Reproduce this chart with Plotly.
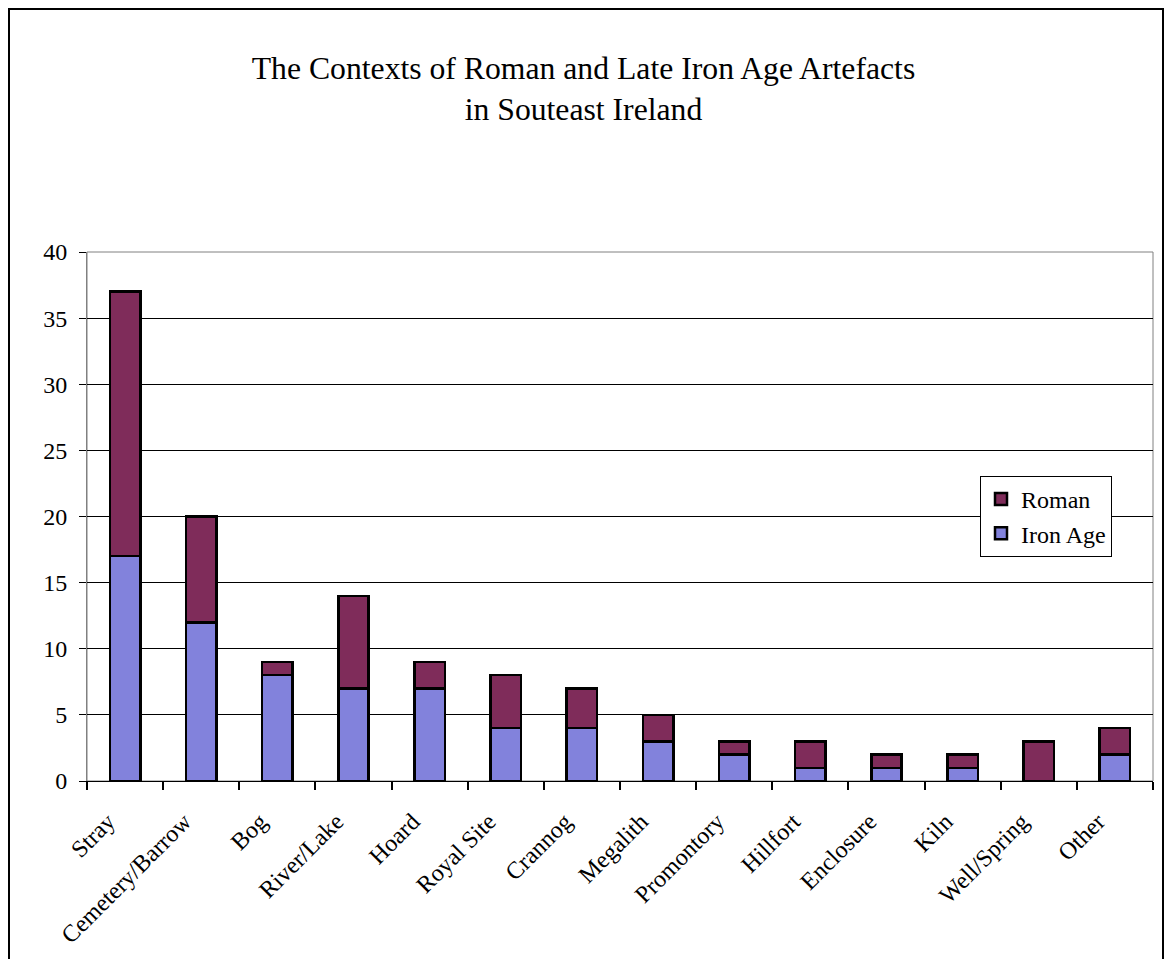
import plotly.graph_objects as go

categories = ["Stray", "Cemetery/Barrow", "Bog", "River/Lake", "Hoard", "Royal Site",
              "Crannog", "Megalith", "Promontory", "Hillfort", "Enclosure", "Kiln",
              "Well/Spring", "Other"]
iron_age = [17, 12, 8, 7, 7, 4, 4, 3, 2, 1, 1, 1, 0, 2]
roman = [20, 8, 1, 7, 2, 4, 3, 2, 1, 2, 1, 1, 3, 2]
y_ticks = [0, 5, 10, 15, 20, 25, 30, 35, 40]

FONT = "Liberation Serif, Times New Roman, serif"

fig = go.Figure()
fig.add_trace(go.Bar(x=categories, y=iron_age, name="Iron Age",
                     marker=dict(color="#8282dc", line=dict(color="black", width=2.5))))
fig.add_trace(go.Bar(x=categories, y=roman, name="Roman",
                     marker=dict(color="#7f2c5a", line=dict(color="black", width=2.5))))

fig.update_layout(
    barmode="stack",
    bargap=0.6,
    width=1167, height=959,
    margin=dict(l=87, r=14, t=252, b=178),
    paper_bgcolor="white", plot_bgcolor="white",
    font=dict(family=FONT, size=24, color="black"),
    title=dict(text="The Contexts of Roman and Late Iron Age Artefacts<br>in Souteast Ireland",
               x=0.5, xref="container", xanchor="center",
               y=1 - 79 / 959, yref="container", yanchor="middle",
               font=dict(family=FONT, size=31.7, color="black")),
    legend=dict(x=(980 - 87) / 1066, y=(781 - 476) / 529, xanchor="left", yanchor="top",
                bgcolor="white", bordercolor="black", borderwidth=1,
                traceorder="reversed", font=dict(family=FONT, size=24),
                itemwidth=30, tracegroupgap=0),
    xaxis=dict(showgrid=False, tickangle=-45, ticks="outside", ticklen=8, tickwidth=1.5,
               tickcolor="#000000", tickson="boundaries",
               showline=True, linecolor="black", linewidth=1,
               ticklabelshift=-17, ticklabelstandoff=16,
               automargin=False, tickfont=dict(family=FONT, size=24)),
    yaxis=dict(range=[0, 40], tickvals=y_ticks, ticks="outside", ticklen=7, tickcolor="black",
               showgrid=True, gridcolor="black", gridwidth=1, showline=True,
               linecolor="#808080", linewidth=1, zeroline=False, automargin=False,
               ticklabelstandoff=7,
               tickfont=dict(family=FONT, size=24)),
)

# plot area border (gray) and outer chart frame
fig.add_shape(type="rect", xref="paper", yref="paper", x0=0, x1=1, y0=0, y1=1,
              line=dict(color="#808080", width=1), layer="below")
fig.add_shape(type="rect", xref="paper", yref="paper",
              x0=-(87 - 9) / 1066, x1=1 + (1163 - 1153) / 1066,
              y0=-0.5, y1=1 + (252 - 9) / 529,
              line=dict(color="black", width=2))

fig.write_html("out.html", config={"displayModeBar": False},
               post_script="document.body.style.margin='0';document.body.style.overflow='hidden';")
